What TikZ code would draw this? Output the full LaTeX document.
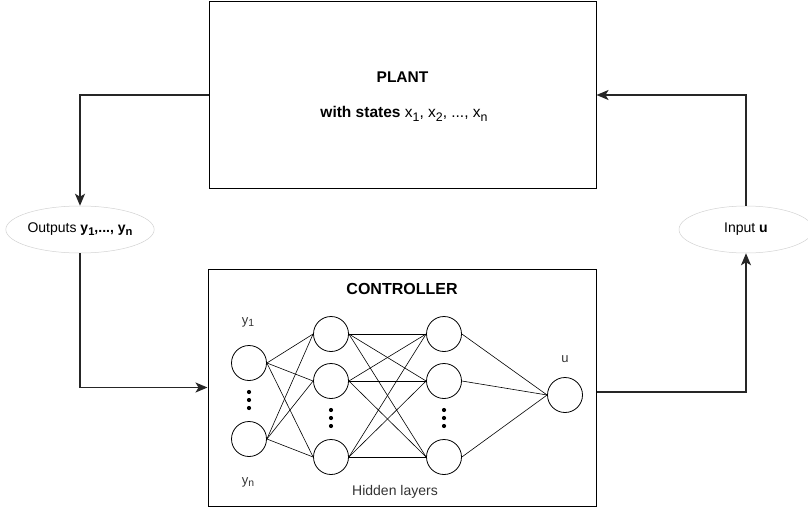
\documentclass[tikz,border=0pt]{standalone}
\usepackage{fontspec}
\setmainfont{Liberation Sans}
\usetikzlibrary{arrows.meta,shapes.geometric}
\newcommand{\sbs}[1]{\raisebox{-0.4ex}{\scalebox{0.8}{#1}}}
\tikzset{
  box/.style={draw, line width=1pt, minimum width=#1, inner sep=0pt},
  neuron/.style={draw, circle, line width=0.8pt, minimum size=35pt, inner sep=0pt},
  link/.style={line width=0.6pt},
  sig/.style={draw, ellipse, gray!35, line width=0.5pt, text=black, minimum width=140pt, minimum height=47pt, inner sep=0pt},
  flow/.style={line width=1.6pt, black!85, -{Stealth[length=12pt,width=10pt,inset=3pt]}},
  dotmark/.style={circle, fill=black, inner sep=0pt, minimum size=4.2pt},
  lbl/.style={font=\fontsize{13}{15}\selectfont, text=black!80}
}
\begin{document}
\begin{tikzpicture}[x=1pt,y=-1pt]
\useasboundingbox (0,0) rectangle (808,516);
% plant
\node[box=387pt, minimum height=186pt] (plant) at (402.5,95) {};
\node[font=\fontsize{15.5}{18}\selectfont\bfseries] (ptitle) at (402.5,77) {PLANT};
\node[font=\fontsize{15.5}{18}\selectfont] (pstates) at (404,114) {\textbf{with states} x\sbs{1}, x\sbs{2}, ..., x\sbs{n}};
% controller
\node[box=388pt, minimum height=237pt] (ctrl) at (402,387.5) {};
\node[font=\fontsize{16}{18}\selectfont\bfseries] (ctitle) at (402,289) {CONTROLLER};
% signal ellipses
\node[sig] (out) at (80,229.5) {\fontsize{14}{16}\selectfont Outputs \textbf{y\sbs{1},..., y\sbs{n}}};
\node[sig, minimum width=134pt] (inp) at (746,229.5) {\fontsize{14}{16}\selectfont Input \textbf{u}};
% neurons
\node[neuron] (i1) at (249,363) {};
\node[neuron] (i2) at (249,439) {};
\node[neuron] (a1) at (331,334) {};
\node[neuron] (a2) at (331,381) {};
\node[neuron] (a3) at (331,457) {};
\node[neuron] (b1) at (444,334) {};
\node[neuron] (b2) at (444,381) {};
\node[neuron] (b3) at (444,457) {};
\node[neuron] (o) at (565,395) {};
% connections
\foreach \s in {i1,i2}{\foreach \t in {a1,a2,a3}{\draw[link] (\s.east) -- (\t.west);}}
\foreach \s in {a1,a2,a3}{\foreach \t in {b1,b2,b3}{\draw[link] (\s.east) -- (\t.west);}}
\foreach \s in {b1,b2,b3}{\draw[link] (\s.east) -- (o.west);}
% dots
\foreach \yy [count=\k] in {392,400,408}{\node[dotmark] (di\k) at (249,\yy) {};}
\foreach \yy [count=\k] in {410,418,426}{\node[dotmark] (da\k) at (331,\yy) {};}
\foreach \yy [count=\k] in {410,418,426}{\node[dotmark] (db\k) at (444,\yy) {};}
% labels
\node[lbl] (ly1) at (248,322) {y\sbs{1}};
\node[lbl] (lyn) at (248,482) {y\sbs{n}};
\node[lbl] (lu) at (565,359) {u};
\node[font=\fontsize{14}{16}\selectfont, text=black!80] (hid) at (395,492) {Hidden layers};
% flows
\draw[flow] (plant.west) -| (out.north);
\draw[flow] (out.south) |- (ctrl.west);
\draw[flow] (ctrl.east |- 0,392) -| (inp.south);
\draw[flow] (inp.north) |- (plant.east);
\end{tikzpicture}
\end{document}
